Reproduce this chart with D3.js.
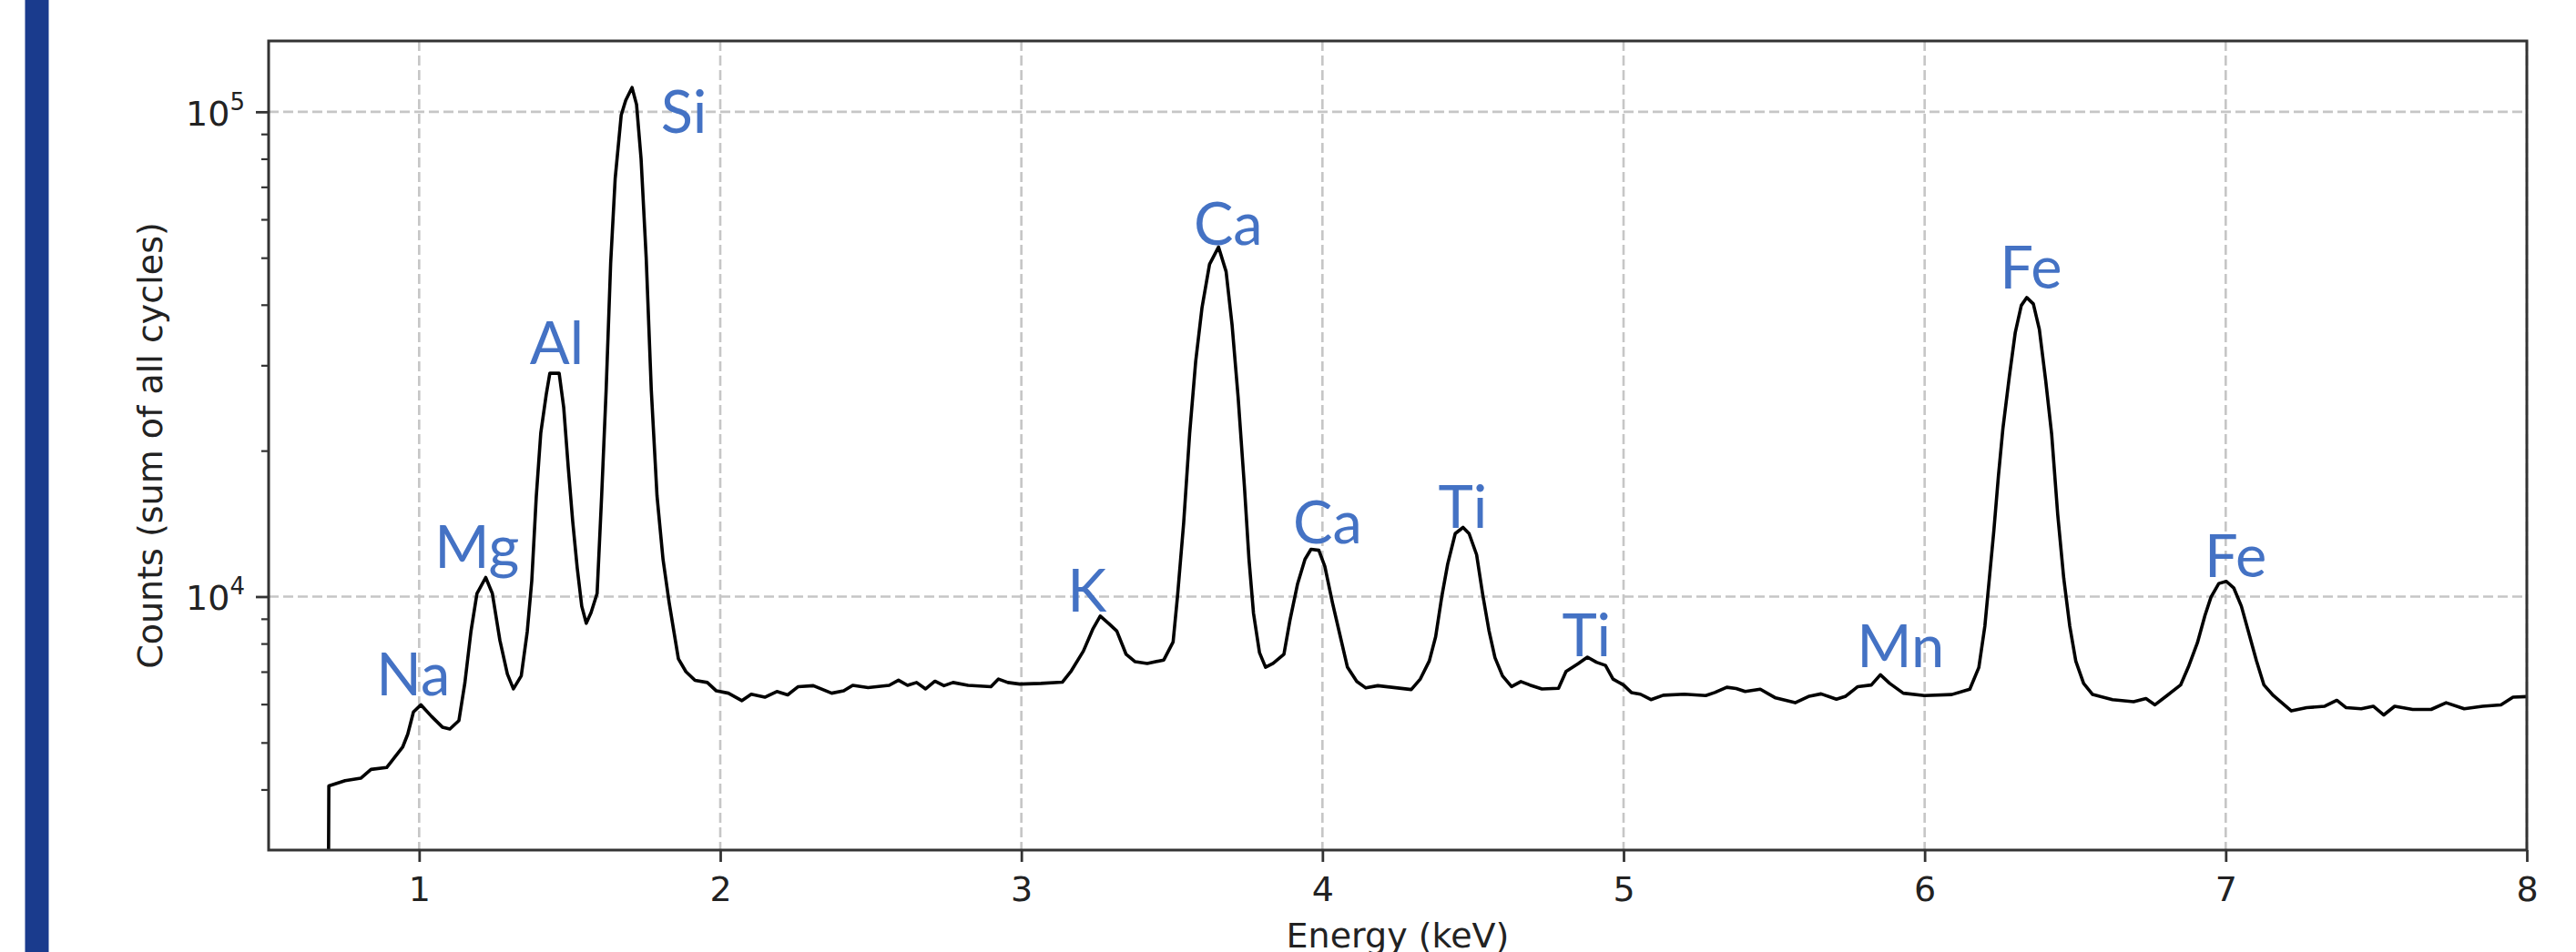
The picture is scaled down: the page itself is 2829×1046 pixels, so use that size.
<!DOCTYPE html>
<html>
<head>
<meta charset="utf-8">
<script src="https://cdn.jsdelivr.net/npm/d3@7"></script>
<style>
  body { margin: 0; background: #fff; }
  svg { display: block; }
</style>
</head>
<body>
<svg width="2829" height="1046"></svg>
<script>
// spectrum (keV, counts)
const energy = [
  0.694, 0.700, 0.754, 0.806, 0.840, 0.892, 0.945, 0.962, 0.981, 1.006,
  1.041, 1.077, 1.102, 1.132, 1.152, 1.172, 1.192, 1.221, 1.243, 1.268,
  1.293, 1.313, 1.339, 1.359, 1.374, 1.389, 1.404, 1.422, 1.434, 1.465,
  1.480, 1.495, 1.510, 1.525, 1.540, 1.555, 1.571, 1.591, 1.606, 1.621,
  1.636, 1.651, 1.671, 1.686, 1.707, 1.722, 1.737, 1.754, 1.771, 1.790,
  1.810, 1.830, 1.846, 1.861, 1.886, 1.916, 1.957, 1.987, 2.027, 2.072,
  2.103, 2.148, 2.188, 2.224, 2.259, 2.309, 2.370, 2.410, 2.440, 2.491,
  2.561, 2.592, 2.622, 2.652, 2.682, 2.713, 2.743, 2.773, 2.823, 2.899,
  2.924, 2.955, 2.995, 3.065, 3.136, 3.166, 3.206, 3.237, 3.262, 3.292,
  3.317, 3.348, 3.378, 3.418, 3.473, 3.504, 3.519, 3.539, 3.559, 3.579,
  3.600, 3.625, 3.655, 3.680, 3.700, 3.720, 3.741, 3.756, 3.771, 3.791,
  3.811, 3.836, 3.872, 3.892, 3.917, 3.942, 3.962, 3.988, 4.008, 4.033,
  4.058, 4.083, 4.114, 4.144, 4.184, 4.295, 4.325, 4.355, 4.376, 4.396,
  4.416, 4.441, 4.467, 4.487, 4.512, 4.532, 4.553, 4.573, 4.598, 4.628,
  4.659, 4.689, 4.729, 4.784, 4.809, 4.849, 4.880, 4.910, 4.940, 4.965,
  5.000, 5.026, 5.056, 5.091, 5.132, 5.202, 5.273, 5.303, 5.343, 5.374,
  5.404, 5.454, 5.505, 5.570, 5.617, 5.656, 5.707, 5.738, 5.778, 5.823,
  5.853, 5.884, 5.929, 5.999, 6.090, 6.150, 6.180, 6.200, 6.215, 6.230,
  6.245, 6.260, 6.281, 6.301, 6.321, 6.339, 6.361, 6.381, 6.402, 6.422,
  6.442, 6.462, 6.482, 6.502, 6.528, 6.558, 6.624, 6.694, 6.735, 6.765,
  6.805, 6.850, 6.876, 6.906, 6.931, 6.951, 6.977, 7.002, 7.027, 7.052,
  7.077, 7.102, 7.127, 7.158, 7.218, 7.269, 7.329, 7.369, 7.400, 7.450,
  7.490, 7.525, 7.561, 7.621, 7.682, 7.732, 7.792, 7.853, 7.914, 7.954,
  8.000
];
const counts = [
  500, 4070, 4170, 4220, 4400, 4440, 4890, 5200, 5780, 5980,
  5660, 5380, 5330, 5550, 6650, 8470, 10150, 10950, 10150, 8130,
  6920, 6450, 6860, 8470, 10780, 16100, 21780, 26100, 28880, 28880,
  24580, 18530, 14280, 11450, 9550, 8810, 9270, 10150, 16100, 26670,
  48700, 72800, 98400, 105600, 112200, 103500, 80000, 50000, 26640, 16120,
  11920, 9740, 8470, 7440, 7000, 6720, 6650, 6390, 6320, 6100,
  6290, 6200, 6370, 6270, 6520, 6550, 6320, 6390, 6560, 6490,
  6560, 6720, 6560, 6650, 6450, 6690, 6550, 6650, 6560, 6520,
  6760, 6650, 6600, 6620, 6660, 7030, 7720, 8560, 9120, 8780,
  8490, 7600, 7340, 7280, 7400, 8060, 10070, 14170, 21710, 30550,
  39460, 48460, 52600, 46820, 36250, 25760, 16800, 11940, 9240, 7660,
  7150, 7280, 7600, 8930, 10600, 11940, 12520, 12460, 11540, 9730,
  8340, 7150, 6680, 6480, 6550, 6430, 6760, 7370, 8270, 9970,
  11680, 13490, 13890, 13490, 12200, 10120, 8510, 7480, 6860, 6520,
  6680, 6570, 6450, 6470, 7010, 7270, 7500, 7320, 7210, 6760,
  6570, 6340, 6290, 6130, 6260, 6290, 6250, 6340, 6500, 6460,
  6370, 6440, 6180, 6040, 6230, 6300, 6140, 6230, 6520, 6570,
  6900, 6620, 6320, 6250, 6280, 6440, 7140, 8690, 10910, 13700,
  17720, 22230, 28340, 35050, 39860, 41390, 40160, 35580, 27920, 21580,
  14770, 10910, 8690, 7360, 6620, 6280, 6130, 6070, 6160, 5980,
  6250, 6570, 7160, 8030, 9140, 9970, 10640, 10750, 10410, 9550,
  8390, 7370, 6570, 6250, 5810, 5900, 5940, 6110, 5900, 5870,
  5940, 5700, 5940, 5850, 5850, 6040, 5870, 5940, 5980, 6200,
  6220
];

// element labels, anchored in data units (keV, counts at the text baseline)
const peakNames  = ['Na', 'Mg', 'Al', 'Si', 'K', 'Ca', 'Ca', 'Ti', 'Ti', 'Mn', 'Fe', 'Fe'];
const peakEnergy = [0.980, 1.192, 1.457, 1.803, 3.218, 3.687, 4.017, 4.466, 4.877, 5.920, 6.353, 7.033];
const peakCounts = [6245, 11450, 30180, 90520, 9320, 53230, 12890, 13830, 7530, 7160, 43120, 10985];

const xTicks = [1, 2, 3, 4, 5, 6, 7, 8];
const yMajor = [1e4, 1e5];
const yMinor = [4000, 5000, 6000, 7000, 8000, 9000, 20000, 30000, 40000, 50000, 60000, 70000, 80000, 90000];

var svg = d3.select('svg');
var width = +svg.attr('width');
var height = +svg.attr('height');

const margin = {top: 45, right: 54, bottom: 112, left: 295};
const innerWidth = width - margin.left - margin.right;
const innerHeight = height - margin.top - margin.bottom;

// slide's blue strip on the left
svg.append('rect')
  .attr('x', 27.5).attr('y', 0)
  .attr('width', 26).attr('height', height)
  .attr('fill', '#1a3b8d');

const xScale = d3.scaleLinear().domain([0.5, 8]).range([0, innerWidth]);
const yScale = d3.scaleLog().domain([3000, 140000]).range([innerHeight, 0]);

const g = svg.append('g')
  .attr('transform', `translate(${margin.left}, ${margin.top})`);

g.append('clipPath').attr('id', 'plot-clip')
  .append('rect').attr('width', innerWidth).attr('height', innerHeight);

// dashed grid
g.append('g').selectAll('line').data(xTicks)
  .enter().append('line')
  .attr('x1', d => xScale(d)).attr('x2', d => xScale(d))
  .attr('y1', 0).attr('y2', innerHeight)
  .attr('stroke', '#c6c6c6').attr('stroke-width', 2.6)
  .attr('stroke-dasharray', '11 5');

g.append('g').selectAll('line').data(yMajor)
  .enter().append('line')
  .attr('x1', 0).attr('x2', innerWidth)
  .attr('y1', d => yScale(d)).attr('y2', d => yScale(d))
  .attr('stroke', '#c6c6c6').attr('stroke-width', 2.6)
  .attr('stroke-dasharray', '11 5');

// spectrum
const spectrum = energy.map((e, i) => ({e: e, c: counts[i]}));
const line = d3.line().x(d => xScale(d.e)).y(d => yScale(d.c));

g.append('path')
  .datum(spectrum)
  .attr('clip-path', 'url(#plot-clip)')
  .attr('d', line)
  .attr('fill', 'none')
  .attr('stroke', '#000')
  .attr('stroke-width', 3.6)
  .attr('stroke-linejoin', 'round');

// axes
const xAxis = g.append('g')
  .attr('transform', `translate(0,${innerHeight})`)
  .call(d3.axisBottom(xScale).tickValues(xTicks).tickFormat(d3.format('d')).tickSize(13));
xAxis.select('.domain').remove();
xAxis.selectAll('line').attr('stroke', '#333').attr('stroke-width', 2.8);
xAxis.selectAll('text')
  .attr('y', 56).attr('dy', null)
  .attr('fill', '#222')
  .style('font-family', 'DejaVu Sans')
  .style('font-size', '38px');

const yMinorAxis = g.append('g')
  .call(d3.axisLeft(yScale).tickValues(yMinor).tickFormat('').tickSize(8));
yMinorAxis.select('.domain').remove();
yMinorAxis.selectAll('line').attr('stroke', '#333').attr('stroke-width', 2.2);

const yAxis = g.append('g')
  .call(d3.axisLeft(yScale).tickValues(yMajor).tickFormat('').tickSize(14));
yAxis.select('.domain').remove();
yAxis.selectAll('line').attr('stroke', '#333').attr('stroke-width', 2.8);
yAxis.selectAll('.tick text').remove();

const yLab = g.append('g').selectAll('text').data(yMajor)
  .enter().append('text')
  .attr('x', -26)
  .attr('y', d => yScale(d) + 15)
  .attr('text-anchor', 'end')
  .attr('fill', '#222')
  .style('font-family', 'DejaVu Sans')
  .style('font-size', '38px');
yLab.append('tspan').text('10');
yLab.append('tspan')
  .attr('dy', -17)
  .style('font-size', '26px')
  .text(d => Math.round(Math.log10(d)));

// frame
g.append('rect')
  .attr('width', innerWidth).attr('height', innerHeight)
  .attr('fill', 'none')
  .attr('stroke', '#333')
  .attr('stroke-width', 3);

// axis titles
svg.append('text')
  .attr('x', margin.left + innerWidth / 2)
  .attr('y', 1041)
  .attr('text-anchor', 'middle')
  .attr('fill', '#222')
  .style('font-family', 'DejaVu Sans')
  .style('font-size', '38px')
  .text('Energy (keV)');

svg.append('text')
  .attr('transform', `translate(178, ${margin.top + innerHeight / 2}) rotate(-90)`)
  .attr('text-anchor', 'middle')
  .attr('fill', '#222')
  .style('font-family', 'DejaVu Sans')
  .style('font-size', '38px')
  .text('Counts (sum of all cycles)');

// element labels
g.append('g').selectAll('text').data(peakNames)
  .enter().append('text')
  .attr('x', (d, i) => xScale(peakEnergy[i]))
  .attr('y', (d, i) => yScale(peakCounts[i]))
  .attr('text-anchor', d => d == 'Si' ? 'start' : 'middle')
  .attr('fill', '#4472c4')
  .style('font-family', 'Lato')
  .style('font-size', '65px')
  .text(d => d);
</script>
</body>
</html>
